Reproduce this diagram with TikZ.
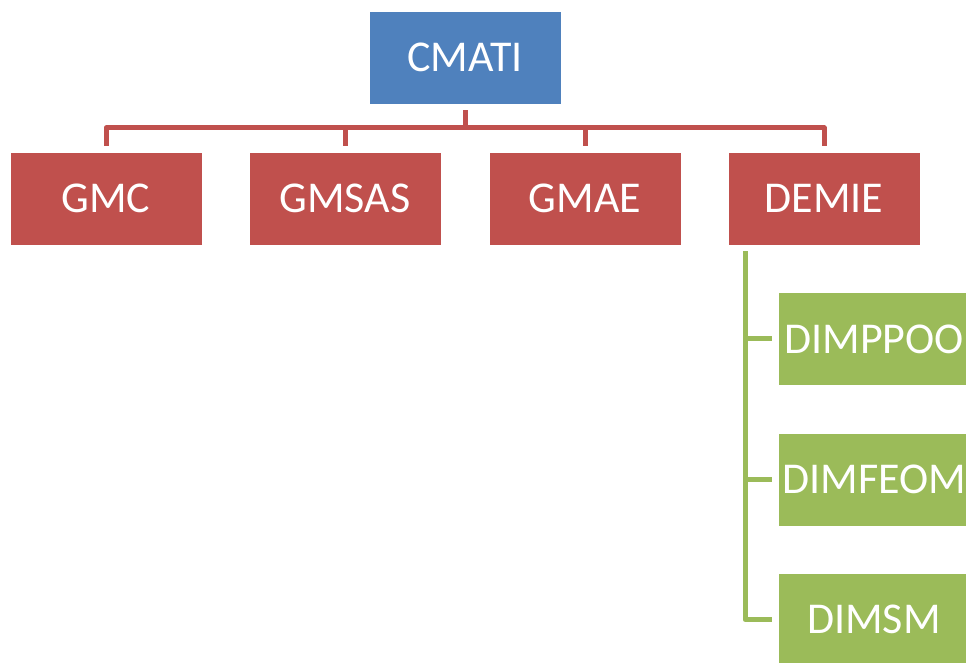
\documentclass[tikz,border=0pt]{standalone}
\usepackage{fontspec}
\setmainfont{Carlito}
\definecolor{cblue}{HTML}{4F81BD}
\definecolor{cred}{HTML}{C0504D}
\definecolor{cgreen}{HTML}{9BBB59}
\begin{document}
\begin{tikzpicture}[x=1pt,y=1pt,
  box/.style={minimum width=192pt,minimum height=93pt,inner sep=0pt,text=white,
    font=\fontsize{44}{52}\selectfont, draw=white, line width=0.6pt},
  redline/.style={draw=cred,line width=5pt,line join=round},
  greenline/.style={draw=cgreen,line width=5pt,line join=round}]
\useasboundingbox (0,0) rectangle (966,662);
\clip (0,0) rectangle (966,662);
\node[box,fill=cblue] (cmati) at (465,604.5) {CMATI};
\node[box,fill=cred] (gmc) at (106,463.5) {GMC};
\node[box,fill=cred] (gmsas) at (345,463.5) {GMSAS};
\node[box,fill=cred] (gmae) at (585,463.5) {GMAE};
\node[box,fill=cred] (demie) at (824,463.5) {DEMIE};
\node[box,fill=cgreen] (d1) at (874,323) {DIMPPOO};
\node[box,fill=cgreen] (d2) at (874,182.5) {DIMFEOM};
\node[box,fill=cgreen] (d3) at (874,42.5) {DIMSM};
\coordinate (bus) at (465,534);
\coordinate (spine) at (745,0);
% red tree
\draw[redline] ([yshift=6pt]gmc.north) -- (gmc.north |- bus) -- (demie.north |- bus) -- ([yshift=6pt]demie.north);
\draw[redline] ([yshift=-6pt]cmati.south) -- (bus);
\draw[redline] ([yshift=6pt]gmsas.north) -- (gmsas.north |- bus);
\draw[redline] ([yshift=6pt]gmae.north) -- (gmae.north |- bus);
% green tree
\draw[greenline] ([yshift=-6pt]demie.south -| spine) -- (spine |- d3.west) -- ([xshift=-6pt]d3.west);
\draw[greenline] (spine |- d1.west) -- ([xshift=-6pt]d1.west);
\draw[greenline] (spine |- d2.west) -- ([xshift=-6pt]d2.west);
\end{tikzpicture}
\end{document}
